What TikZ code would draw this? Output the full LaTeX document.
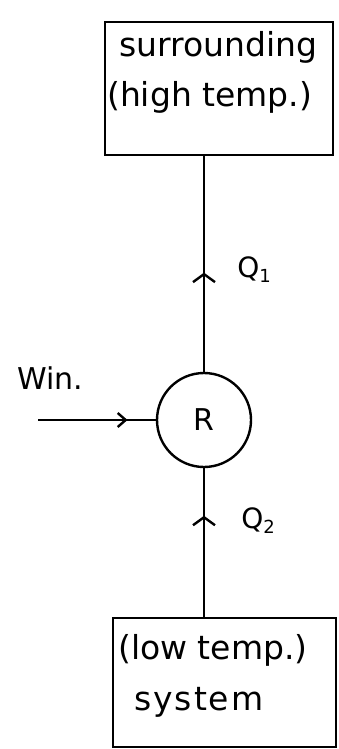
\documentclass[tikz,border=0pt]{standalone}
\usepackage{fontspec}
\setmainfont{DejaVu Sans}
\usetikzlibrary{decorations.markings,arrows.meta}
\begin{document}
\begin{tikzpicture}[x=1pt,y=-1pt,
  line width=2.4pt,
  box/.style={draw,rectangle,inner sep=0pt},
  lbl/.style={font=\fontsize{33}{36}\selectfont,inner sep=0pt},
  midarrow/.style 2 args={postaction={decorate},decoration={markings,
     mark=at position #1 with {\arrow{Straight Barb[length=8pt,width=#2]}}}}]
\useasboundingbox (0,0) rectangle (339,749);
\node[box,minimum width=228pt,minimum height=133pt] (surr) at (219,88.5) {};
\node[box,minimum width=223pt,minimum height=129pt] (sys) at (224.5,682.5) {};
\node[draw,circle,minimum size=94pt,inner sep=0pt,font=\fontsize{30}{34}\selectfont] (R) at (204,420) {R};
\node[lbl,anchor=west] (t1) at (118,47) {surrounding};
\node[lbl,anchor=west] (t2) at (106,97) {(high temp.)};
\node[lbl,anchor=west] (t3) at (117,650) {(low temp.)};
\node[lbl,anchor=west] (t4) at (133,702) {\addfontfeature{LetterSpace=6}system};
\node[font=\fontsize{28}{32}\selectfont,inner sep=0pt] (q1) at (254,270) {Q{\fontsize{18}{20}\selectfont\raisebox{-5pt}{1}}};
\node[font=\fontsize{28}{32}\selectfont,inner sep=0pt] (q2) at (258,521) {Q{\fontsize{18}{20}\selectfont\raisebox{-5pt}{2}}};
\node[font=\fontsize{30}{34}\selectfont,inner sep=0pt] (w) at (50,378) {Win.};
\coordinate (win) at (38,420);
\draw[midarrow={0.46}{22pt}] (R.north) -- (R.north |- surr.south);
\draw[midarrow={0.68}{22pt}] (R.south |- sys.north) -- (R.south);
\draw[midarrow={0.76}{14pt}] (win) -- (R.west);
\end{tikzpicture}
\end{document}
